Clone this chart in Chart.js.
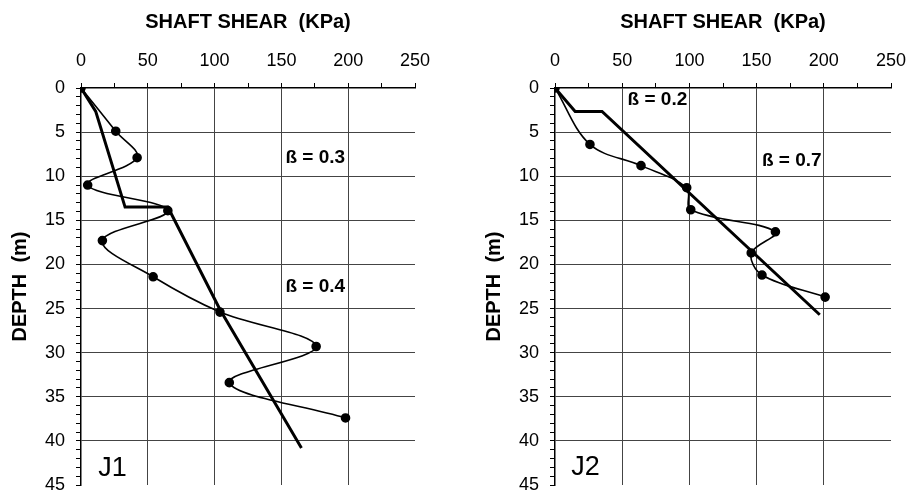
<!DOCTYPE html>
<html>
<head>
<meta charset="utf-8">
<script src="https://cdn.jsdelivr.net/npm/chart.js@4/dist/chart.umd.min.js"></script>
<style>
  body { margin: 0; background: #fff; }
  .wrap { position: relative; width: 912px; height: 496px; }
  canvas { position: absolute; top: 0; }
</style>
</head>
<body>
<div class="wrap">
  <canvas id="j1" width="438" height="496" style="left:0px"></canvas>
  <canvas id="j2" width="438" height="496" style="left:474px"></canvas>
</div>
<script>
// J1 - measured shaft shear vs depth
const j1Depth = [0, 4.9, 7.9, 11.0, 13.9, 17.3, 21.4, 25.4, 29.3, 33.4, 37.4];
const j1Shear = [0, 26, 42, 5, 65, 16, 54, 104, 176, 111, 198];
// J1 - beta fit line
const j1FitDepth = [0, 2.65, 13.5, 13.5, 25.1, 40.8];
const j1FitShear = [0, 11, 33, 65, 104, 165];

// J2 - measured
const j2Depth = [0, 6.4, 8.8, 11.3, 13.8, 16.3, 18.7, 21.2, 23.7];
const j2Shear = [0, 26, 64, 98, 101, 164, 146, 154, 201];
// J2 - beta fit line
const j2FitDepth = [0, 2.65, 2.65, 25.7];
const j2FitShear = [0, 15, 35, 197];

// ticks
const shearTicks = [0, 50, 100, 150, 200, 250];
const depthTicks = [0, 5, 10, 15, 20, 25, 30, 35, 40, 45];

// text notes (shear, depth at text left / middle)
const j1Notes = [
  { text: 'ß = 0.3', shear: 153, depth: 7.9, bold: true },
  { text: 'ß = 0.4', shear: 153, depth: 22.5, bold: true },
  { text: 'J1', shear: 13, depth: 43.1, bold: false }
];
const j2Notes = [
  { text: 'ß = 0.2', shear: 54, depth: 1.3, bold: true },
  { text: 'ß = 0.7', shear: 154, depth: 8.2, bold: true },
  { text: 'J2', shear: 12, depth: 43.0, bold: false }
];

const FONT = "'Liberation Sans', Arial, sans-serif";

function toPoints(xs, ys) {
  return xs.map((x, i) => ({ x: x, y: ys[i] }));
}

// no extra label padding, the layout padding below sets the plot box
function noPad(s) {
  s.paddingLeft = 0; s.paddingRight = 0;
  s.paddingTop = 0; s.paddingBottom = 0;
}

const notesPlugin = {
  id: 'notes',
  afterDatasetsDraw(chart) {
    const notes = chart.options.plugins.notes.items;
    const ctx = chart.ctx;
    const sx = chart.scales.x, sy = chart.scales.y;
    ctx.save();
    ctx.fillStyle = '#000';
    ctx.textAlign = 'left';
    ctx.textBaseline = 'middle';
    notes.forEach(n => {
      ctx.font = n.bold ? 'bold 19px ' + FONT : '27px ' + FONT;
      ctx.fillText(n.text, sx.getPixelForValue(n.shear), sy.getPixelForValue(n.depth));
    });
    ctx.restore();
  }
};

function makeChart(id, shear, depth, fitShear, fitDepth, notes, padRight) {
  return new Chart(document.getElementById(id), {
    type: 'scatter',
    data: {
      datasets: [
        {
          data: toPoints(shear, depth),
          showLine: true,
          tension: 0.35,
          borderColor: '#000',
          borderWidth: 1.6,
          pointRadius: 4,
          pointBackgroundColor: '#000',
          pointBorderColor: '#000'
        },
        {
          data: toPoints(fitShear, fitDepth),
          showLine: true,
          tension: 0,
          borderColor: '#000',
          borderWidth: 3,
          pointRadius: 0
        }
      ]
    },
    options: {
      responsive: false,
      animation: false,
      layout: { padding: { left: 0, top: 0, right: padRight, bottom: 11 } },
      plugins: {
        legend: { display: false },
        tooltip: { enabled: false },
        notes: { items: notes }
      },
      scales: {
        x: {
          type: 'linear',
          position: 'top',
          min: 0, max: 250,
          afterFit(s) { s.height = 88; noPad(s); },
          border: { display: true, color: '#000', width: 1.5 },
          grid: {
            color: c => (c.tick && shearTicks.includes(c.tick.value) && c.tick.value !== 0 && c.tick.value !== 250) ? '#444' : 'rgba(0,0,0,0)',
            tickColor: '#000',
            tickLength: 5,
            lineWidth: 1
          },
          ticks: {
            stepSize: 25,
            autoSkip: false,
            maxRotation: 0,
            padding: 11,
            color: '#000',
            font: { family: FONT, size: 18 },
            callback: v => shearTicks.includes(v) ? v : ''
          },
          title: {
            display: true,
            text: 'SHAFT SHEAR  (KPa)',
            color: '#000',
            font: { family: FONT, size: 20, weight: 'bold' },
            padding: { top: 10, bottom: 0 }
          }
        },
        y: {
          type: 'linear',
          position: 'left',
          reverse: true,
          min: 0, max: 45,
          afterFit(s) { s.width = 81; noPad(s); },
          border: { display: true, color: '#000', width: 1.5 },
          grid: {
            color: c => (c.tick && depthTicks.includes(c.tick.value) && c.tick.value !== 0 && c.tick.value !== 45) ? '#444' : 'rgba(0,0,0,0)',
            tickColor: '#000',
            tickLength: 5,
            lineWidth: 1
          },
          ticks: {
            stepSize: 1,
            autoSkip: false,
            padding: 11,
            color: '#000',
            font: { family: FONT, size: 18 },
            callback: v => depthTicks.includes(v) ? v : ''
          },
          title: {
            display: true,
            text: 'DEPTH  (m)',
            color: '#000',
            font: { family: FONT, size: 20, weight: 'bold' },
            padding: { top: 8, bottom: 0 }
          }
        }
      }
    },
    plugins: [notesPlugin]
  });
}

makeChart('j1', j1Shear, j1Depth, j1FitShear, j1FitDepth, j1Notes, 23);
makeChart('j2', j2Shear, j2Depth, j2FitShear, j2FitDepth, j2Notes, 21);
</script>
</body>
</html>
